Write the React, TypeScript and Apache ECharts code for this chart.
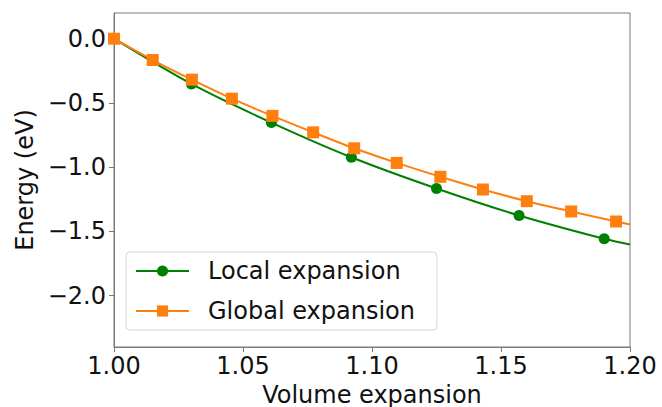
import React, { useEffect, useRef } from "react";
import * as echarts from "echarts";

// Local expansion: energy at each sampled volume
const localVolume = [1.0, 1.03, 1.061, 1.092, 1.125, 1.157, 1.19];
const localEnergy = [0, -0.352, -0.653, -0.923, -1.166, -1.376, -1.558];
// curve continues to the right edge of the plot
const localTail: [number, number] = [1.2, -1.602];

// Global expansion
const globalVolume = [
  1.0, 1.015, 1.0302, 1.0457, 1.0614, 1.0772, 1.0931, 1.1096, 1.1265, 1.143,
  1.16, 1.1772, 1.1946,
];
const globalEnergy = [
  0, -0.166, -0.319, -0.467, -0.601, -0.729, -0.853, -0.967, -1.075, -1.174,
  -1.265, -1.345, -1.423,
];
const globalTail: [number, number] = [1.2, -1.446];

const yTicks = [0, -0.5, -1.0, -1.5, -2.0];

const FONT = "DejaVu Sans";
const SPINE = "#7a7a7a";
const FS = 24;

const fmt = (v: number, digits: number) =>
  (v < 0 ? "\u2212" : "") + Math.abs(v).toFixed(digits);

export default function App() {
  const ref = useRef<HTMLDivElement>(null);

  useEffect(() => {
    document.body.style.margin = "0";
    if (!ref.current) return;
    const chart = echarts.init(ref.current, null, { renderer: "svg" });

    const localData: any[] = localVolume.map((x, i) => [x, localEnergy[i]]);
    localData.push({ value: localTail, symbol: "none" });
    const globalData: any[] = globalVolume.map((x, i) => [x, globalEnergy[i]]);
    globalData.push({ value: globalTail, symbol: "none" });

    chart.setOption({
      animation: false,
      textStyle: { fontFamily: FONT },
      grid: {
        left: 114,
        top: 13,
        right: 32,
        bottom: 60,
        outerBoundsMode: "none",
        containLabel: false,
        show: true,
        borderColor: SPINE,
        borderWidth: 1,
        backgroundColor: "#fff",
      },
      legend: {
        orient: "vertical",
        left: 126,
        top: 252,
        padding: [7, 22, 7, 9],
        backgroundColor: "#fff",
        borderColor: "#d6d6d6",
        borderWidth: 1,
        borderRadius: 4,
        itemWidth: 53,
        itemHeight: 14,
        itemGap: 16,
        textStyle: {
          fontFamily: FONT,
          fontSize: FS,
          color: "#111",
          padding: [0, 0, 0, 14],
        },
        data: ["Local expansion", "Global expansion"],
      },
      xAxis: {
        type: "value",
        min: 1.0,
        max: 1.2,
        interval: 0.05,
        name: "Volume expansion",
        nameLocation: "middle",
        nameGap: 36,
        nameTextStyle: { fontFamily: FONT, fontSize: FS, color: "#111" },
        splitLine: { show: false },
        axisLine: { show: true, onZero: false, lineStyle: { color: SPINE, width: 1 } },
        axisTick: { show: true, length: 5, lineStyle: { color: SPINE } },
        axisLabel: {
          fontFamily: FONT,
          fontSize: FS,
          color: "#111",
          margin: 7,
          formatter: (v: number) => fmt(v, 2),
        },
      },
      yAxis: {
        type: "value",
        min: -2.4,
        max: 0.2,
        name: "Energy (eV)",
        nameLocation: "middle",
        nameGap: 76,
        nameTextStyle: { fontFamily: FONT, fontSize: FS, color: "#111" },
        splitLine: { show: false },
        axisLine: { show: true, onZero: false, lineStyle: { color: SPINE, width: 1 } },
        axisTick: {
          show: true,
          length: 5,
          lineStyle: { color: SPINE },
          customValues: yTicks,
        },
        axisLabel: {
          fontFamily: FONT,
          fontSize: FS,
          color: "#111",
          margin: 8,
          customValues: yTicks,
          formatter: (v: number) => fmt(v, 1),
        },
      },
      series: [
        {
          name: "Local expansion",
          type: "line",
          data: localData,
          smooth: 0.3,
          symbol: "circle",
          symbolSize: 11,
          lineStyle: { color: "#008000", width: 2 },
          itemStyle: { color: "#008000" },
          z: 2,
        },
        {
          name: "Global expansion",
          type: "line",
          data: globalData,
          smooth: 0.3,
          symbol: "rect",
          symbolSize: 12,
          lineStyle: { color: "#ff7f0e", width: 2 },
          itemStyle: { color: "#ff7f0e" },
          z: 3,
        },
      ],
    });

    return () => chart.dispose();
  }, []);

  return <div ref={ref} style={{ width: 662, height: 407 }} />;
}
